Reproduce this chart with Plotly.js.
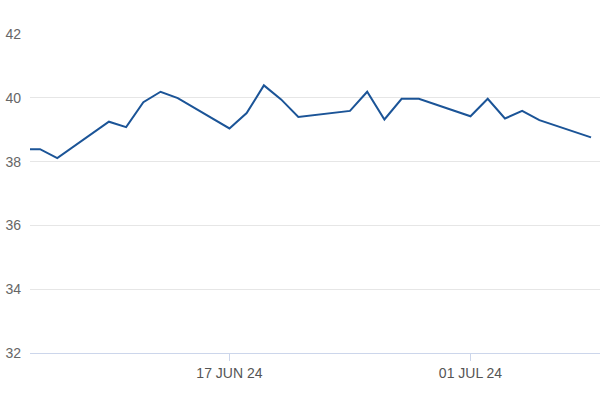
<!DOCTYPE html>
<html>
<head>
<meta charset="utf-8">
<script src="https://cdn.plot.ly/plotly-3.0.1.min.js"></script>
<style>
  html, body { margin: 0; padding: 0; background: #ffffff; }
  #chart { width: 600px; height: 400px; }
</style>
</head>
<body>
<div id="chart"></div>
<script>
// Trading dates (weekdays)
const dates = [
  "2024-06-05", "2024-06-06", "2024-06-07",
  "2024-06-10", "2024-06-11", "2024-06-12", "2024-06-13", "2024-06-14",
  "2024-06-17", "2024-06-18", "2024-06-19", "2024-06-20", "2024-06-21",
  "2024-06-24", "2024-06-25", "2024-06-26", "2024-06-27", "2024-06-28",
  "2024-07-01", "2024-07-02", "2024-07-03", "2024-07-04", "2024-07-05",
  "2024-07-08"
];
// Closing values
const values = [
  38.38, 38.39, 38.11,
  39.25, 39.08, 39.86, 40.19, 39.99,
  39.04, 39.52, 40.39, 39.95, 39.40,
  39.59, 40.19, 39.32, 39.97, 39.97,
  39.42, 39.97, 39.35, 39.59, 39.30,
  38.76
];
// X tick labels
const xTickVals = ["2024-06-17", "2024-07-01"];
const xTickText = ["17 JUN 24", "01 JUL 24"];
// Y ticks
const yTickVals = [32, 34, 36, 38, 40, 42];

const trace = {
  x: dates,
  y: values,
  type: "scatter",
  mode: "lines",
  line: { color: "#1b5497", width: 2 },
  hoverinfo: "x+y"
};

const layout = {
  width: 600,
  height: 400,
  margin: { l: 30, r: 0, t: 34, b: 47 },
  paper_bgcolor: "#ffffff",
  plot_bgcolor: "#ffffff",
  showlegend: false,
  font: { family: "Liberation Sans, Arial, sans-serif", size: 14, color: "#666666" },
  xaxis: {
    type: "date",
    range: ["2024-06-05 10:00", "2024-07-08 12:30"],
    tickvals: xTickVals,
    ticktext: xTickText,
    showgrid: false,
    showline: true,
    linecolor: "#ccd6eb",
    linewidth: 1,
    ticks: "outside",
    ticklen: 7,
    tickcolor: "#ccd6eb",
    tickfont: { size: 14, color: "#555555" },
    zeroline: false,
    fixedrange: true
  },
  yaxis: {
    range: [32, 42],
    tickvals: yTickVals,
    showgrid: true,
    gridcolor: "#e6e6e6",
    gridwidth: 1,
    showline: false,
    zeroline: false,
    ticks: "",
    ticklabelstandoff: 8,
    tickfont: { size: 14, color: "#666666" },
    fixedrange: true
  }
};

Plotly.newPlot("chart", [trace], layout, { displayModeBar: false, staticPlot: true });
</script>
</body>
</html>
